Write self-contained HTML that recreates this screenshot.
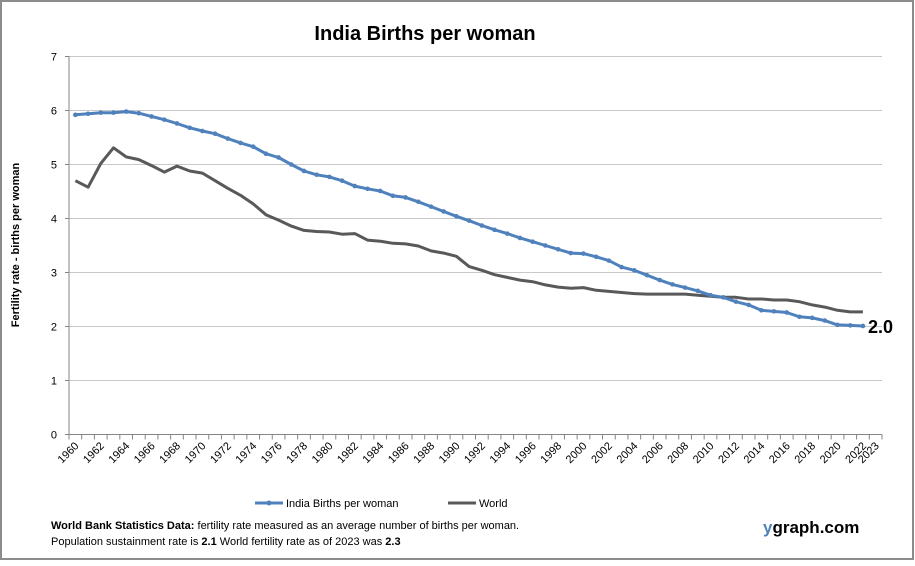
<!DOCTYPE html>
<html><head><meta charset="utf-8"><style>
html,body{margin:0;padding:0;background:#fff}
body{width:915px;height:561px;overflow:hidden;font-family:"Liberation Sans",sans-serif}
</style></head><body>
<svg id="s" width="915" height="561" xmlns="http://www.w3.org/2000/svg" font-family="Liberation Sans, sans-serif">
<rect x="1" y="1" width="912" height="558" fill="#fff" stroke="#8c8c8c" stroke-width="2"/>
<text x="425" y="40" font-size="20" font-weight="bold" text-anchor="middle" fill="#000">India Births per woman</text>
<text transform="translate(19,245) rotate(-90)" font-size="11" font-weight="bold" text-anchor="middle">Fertility rate  - births per woman</text>
<g id="g"></g>
<text x="868" y="333" font-size="18" font-weight="bold">2.0</text>
<line x1="255" y1="503" x2="283" y2="503" stroke="#4f81bd" stroke-width="3"/>
<text x="286" y="507" font-size="11">India Births per woman</text>
<line x1="448" y1="503" x2="476" y2="503" stroke="#595959" stroke-width="3"/>
<text x="479" y="507" font-size="11">World</text>
<text x="51" y="529" font-size="11"><tspan font-weight="bold">World Bank  Statistics  Data:</tspan> fertility rate measured as an average number  of births per woman.</text>
<text x="51" y="545" font-size="11">Population sustainment rate is <tspan font-weight="bold">2.1</tspan>    World fertility rate as of 2023 was <tspan font-weight="bold">2.3</tspan></text>
<text x="763" y="533" font-size="17" font-weight="bold"><tspan fill="#4f81bd">y</tspan>graph.com</text>
</svg>
<script>
var ind=[5.92,5.94,5.96,5.96,5.98,5.95,5.89,5.83,5.76,5.68,5.62,5.57,5.48,5.40,5.33,5.20,5.13,5.00,4.88,4.81,4.77,4.70,4.60,4.55,4.51,4.42,4.39,4.31,4.22,4.13,4.04,3.96,3.87,3.79,3.72,3.64,3.57,3.50,3.43,3.36,3.35,3.29,3.22,3.10,3.04,2.95,2.86,2.78,2.72,2.66,2.58,2.54,2.46,2.40,2.30,2.28,2.26,2.18,2.16,2.11,2.03,2.02,2.01];
var wld=[4.70,4.58,5.02,5.31,5.14,5.09,4.98,4.86,4.97,4.88,4.84,4.70,4.56,4.43,4.27,4.07,3.97,3.86,3.78,3.76,3.75,3.71,3.72,3.60,3.58,3.54,3.53,3.49,3.40,3.36,3.30,3.11,3.04,2.96,2.91,2.86,2.83,2.77,2.73,2.71,2.72,2.67,2.65,2.63,2.61,2.60,2.60,2.60,2.60,2.58,2.56,2.54,2.54,2.51,2.51,2.49,2.49,2.46,2.40,2.36,2.30,2.27,2.27];
var x0=69,x1=882,y0=434.5,k=54,w=(x1-x0)/64,h='';
for(var v=0;v<=7;v++){var y=y0-v*k;if(v>0)h+='<line x1="'+x0+'" y1="'+y+'" x2="'+x1+'" y2="'+y+'" stroke="#c8c8c8"/>';h+='<text x="57" y="'+(y+4)+'" font-size="11" text-anchor="end">'+v+'</text>';h+='<line x1="'+(x0-4)+'" y1="'+y+'" x2="'+x0+'" y2="'+y+'" stroke="#868686"/>';}
h+='<line x1="'+x0+'" y1="56" x2="'+x0+'" y2="'+y0+'" stroke="#868686"/><line x1="'+x0+'" y1="'+y0+'" x2="'+x1+'" y2="'+y0+'" stroke="#868686"/>';
for(var i=0;i<=64;i++){var x=x0+i*w;h+='<line x1="'+x+'" y1="'+y0+'" x2="'+x+'" y2="'+(y0+5)+'" stroke="#868686"/>';}
for(var i=0;i<64;i+=2){lab(i,1960+i);}lab(63,2023);
function lab(i,t){var x=x0+(i+0.5)*w+4,y=y0+12;h+='<text transform="translate('+x+','+y+') rotate(-45)" font-size="11" text-anchor="end">'+t+'</text>';}
function pts(a){return a.map(function(v,i){return (x0+(i+0.5)*w).toFixed(1)+','+(y0-v*k).toFixed(1)}).join(' ');}
h+='<polyline points="'+pts(wld)+'" fill="none" stroke="#595959" stroke-width="3" stroke-linejoin="round"/>';
h+='<polyline points="'+pts(ind)+'" fill="none" stroke="#4f81bd" stroke-width="3" stroke-linejoin="round"/>';
ind.forEach(function(v,i){h+='<circle cx="'+(x0+(i+0.5)*w)+'" cy="'+(y0-v*k)+'" r="2.3" fill="#4f81bd"/>';});
h+='<circle cx="269" cy="503" r="2.5" fill="#4f81bd"/>';
document.getElementById('g').innerHTML=h;
</script>
</body></html>
